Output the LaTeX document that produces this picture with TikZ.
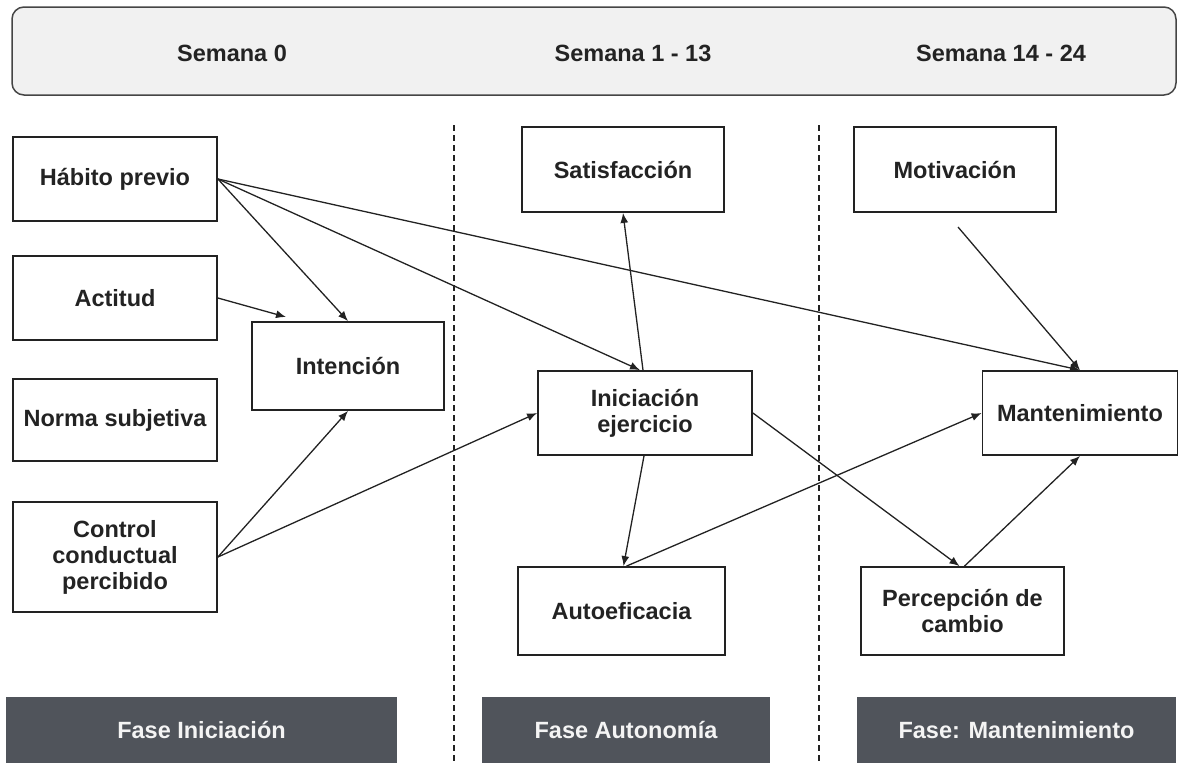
\documentclass[tikz,border=0pt]{standalone}
\usepackage{fontspec}
\setmainfont{Liberation Sans}
\usetikzlibrary{arrows.meta,calc}

\definecolor{ink}{HTML}{222222}
\definecolor{txt}{HTML}{232323}
\definecolor{barfill}{HTML}{F1F1F1}
\definecolor{barline}{HTML}{454545}
\definecolor{phasegray}{HTML}{50545B}
\definecolor{phasetext}{HTML}{F4F4F4}

\newcommand{\diagfont}{\fontsize{23.5}{26}\selectfont\bfseries}

\tikzset{
  box/.style={draw=ink, line width=1.8pt, fill=white, align=center,
              font=\diagfont, text=txt, inner sep=2pt},
  link/.style={draw=ink, line width=1.3pt, -{Latex[length=10pt,width=8pt]}},
  divider/.style={draw=ink, line width=1.1pt, dash pattern=on 6pt off 4pt},
  phase/.style={fill=phasegray, text=phasetext, font=\diagfont, inner sep=0pt},
  weeklabel/.style={font=\diagfont, text=txt},
}

\begin{document}
\begin{tikzpicture}[x=1pt, y=-1pt]
  \useasboundingbox (0,0) rectangle (1179,763);

  % timeline header
  \node[draw=barline, fill=barfill, line width=1.5pt, rounded corners=12pt,
        minimum width=1164, minimum height=88, inner sep=0pt] (weeks) at (594,51) {};
  \node[weeklabel] (w0) at (232,53) {Semana 0};
  \node[weeklabel] (w1) at (633,53) {Semana 1 - 13};
  \node[weeklabel] (w2) at (1001,53) {Semana 14 - 24};

  % phase separators
  \draw[divider] (454,125) -- (454,763);
  \draw[divider] (819,125) -- (819,763);

  % phase footers
  \node[phase, minimum width=391, minimum height=66] (f1) at (201.5,730) {Fase Iniciación};
  \node[phase, minimum width=288, minimum height=66] (f2) at (626,730) {Fase Autonomía};
  \node[phase, minimum width=319, minimum height=66] (f3) at (1016.5,730) {Fase: Mantenimiento};

  % constructs, week 0
  \node[box, minimum width=204, minimum height=84] (hab) at (115,179) {Hábito previo};
  \node[box, minimum width=204, minimum height=84] (act) at (115,298) {Actitud};
  \node[box, minimum width=204, minimum height=82] (norm) at (115,420) {Norma subjetiva};
  \node[box, minimum width=204, minimum height=110] (ctrl) at (115,557) {Control\\conductual\\percibido};
  \node[box, minimum width=192, minimum height=88] (int) at (348,366) {Intención};

  % constructs, weeks 1-13
  \node[box, minimum width=202, minimum height=85] (sat) at (623,169.5) {Satisfacción};
  \node[box, minimum width=214, minimum height=84] (ini) at (645,413) {Iniciación\\ejercicio};
  \node[box, minimum width=207, minimum height=88] (auto) at (621.5,611) {Autoeficacia};

  % constructs, weeks 14-24
  \node[box, minimum width=202, minimum height=85] (mot) at (955,169.5) {Motivación};
  \node[box, minimum width=195, minimum height=84] (mant) at (1080,413) {Mantenimiento};
  \node[box, minimum width=203, minimum height=88] (perc) at (962.5,611) {Percepción de\\cambio};

  % free ends
  \coordinate (actend) at (286,317);
  \coordinate (motstart) at (958,227);

  % relations
  \draw[link] (hab.east) -- (int.north);
  \draw[link] (hab.east) -- ([xshift=-5pt]ini.north);
  \draw[link] (hab.east) -- (mant.north);
  \draw[link] (act.east) -- (actend);
  \draw[link] (ctrl.east) -- (int.south);
  \draw[link] (ctrl.east) -- (ini.west);
  \draw[link] ([xshift=-2pt]ini.north) -- (sat.south);
  \draw[link] ([xshift=-1pt]ini.south) -- ([xshift=2pt]auto.north);
  \draw[link] ([xshift=5pt]auto.north) -- (mant.west);
  \draw[link] (ini.east) -- ([xshift=-3pt]perc.north);
  \draw[link] ([xshift=2pt]perc.north) -- (mant.south);
  \draw[link] (motstart) -- (mant.north);
\end{tikzpicture}
\end{document}
